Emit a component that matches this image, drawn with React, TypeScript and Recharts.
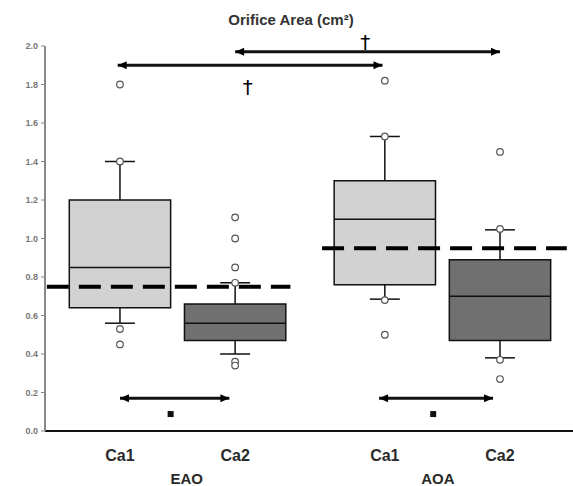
import React from 'react';
import {
  ComposedChart,
  XAxis,
  YAxis,
  Scatter,
  ReferenceArea,
  ReferenceLine,
} from 'recharts';

// box positions on the x scale (EAO Ca1, EAO Ca2, AOA Ca1, AOA Ca2)
const boxPos = [1, 2, 3.3, 4.3];
const whiskerLow = [0.56, 0.4, 0.685, 0.38];
const q1 = [0.64, 0.47, 0.76, 0.47];
const median = [0.85, 0.56, 1.1, 0.7];
const q3 = [1.2, 0.66, 1.3, 0.89];
const whiskerHigh = [1.4, 0.77, 1.53, 1.045];

const outliers = [
  [1.8, 1.4, 0.53, 0.45],
  [1.11, 1.0, 0.85, 0.77, 0.36, 0.34],
  [1.82, 1.53, 0.68, 0.5],
  [1.45, 1.05, 0.37, 0.27],
];

const catLabels = ['Ca1', 'Ca2', 'Ca1', 'Ca2'];
const groupPos = [1.58, 3.76];
const groupLabels = ['EAO', 'AOA'];

// dashed reference level per group and its x extent
const refLevel = [0.75, 0.95];
const refSpan = [
  [0.365, 2.48],
  [2.755, 4.88],
];

// significance arrows
const arrows = [
  { from: 2, to: 4.3, y: 1.97 },
  { from: 0.98, to: 3.28, y: 1.9 },
  { from: 1, to: 1.95, y: 0.17 },
  { from: 3.25, to: 4.24, y: 0.17 },
];
const daggers = [
  { x: 3.13, y: 1.97, side: 'above' },
  { x: 2.11, y: 1.9, side: 'below' },
];
const stars = [
  { x: 1.44, y: 0.088 },
  { x: 3.72, y: 0.088 },
];

const yTicks = [0, 0.2, 0.4, 0.6, 0.8, 1.0, 1.2, 1.4, 1.6, 1.8, 2.0];

const boxFill = ['#d2d2d2', '#707070', '#d2d2d2', '#707070'];
const HALF = 0.44;
const CAP = 0.13;

const outlierData = outliers.flatMap((vals, i) => vals.map((v) => ({ x: boxPos[i], y: v })));
const arrowHeads = arrows.flatMap((a) => [
  { x: a.from, y: a.y, dir: -1 },
  { x: a.to, y: a.y, dir: 1 },
]);

const XTick = (props: any) => {
  const { x, y, payload } = props;
  const ci = boxPos.indexOf(payload.value);
  if (ci >= 0) {
    return (
      <text x={x} y={y + 30} textAnchor="middle" fontSize={16} fontWeight="bold" fill="#2a2a2a" fontFamily="Liberation Sans, Arial">
        {catLabels[ci]}
      </text>
    );
  }
  const gi = groupPos.indexOf(payload.value);
  return (
    <text x={x} y={y + 53} textAnchor="middle" fontSize={15} fontWeight="bold" fill="#2a2a2a" fontFamily="Liberation Sans, Arial">
      {groupLabels[gi]}
    </text>
  );
};

const ArrowHead = (props: any) => {
  const { cx, cy, payload } = props;
  const d = payload.dir;
  return <polygon points={`${cx},${cy} ${cx - d * 9},${cy - 4} ${cx - d * 9},${cy + 4}`} fill="#000" />;
};

const Dagger = (props: any) => {
  const { cx, cy, payload } = props;
  const yy = payload.side === 'above' ? cy - 3 : cy + 29;
  return (
    <text x={cx} y={yy} textAnchor="middle" fontSize={20} fill="#000" fontFamily="DejaVu Sans">
      †
    </text>
  );
};

const Star = (props: any) => {
  const { cx, cy } = props;
  return <rect x={cx - 3} y={cy - 3} width={6} height={6} fill="#111" />;
};

const Outlier = (props: any) => {
  const { cx, cy } = props;
  return <circle cx={cx} cy={cy} r={3.3} fill="#fff" stroke="#555" strokeWidth={1.2} />;
};

export default function App() {
  return (
    <div style={{ position: 'fixed', left: 0, top: 0, width: 573, height: 486, background: '#fff' }}>
      <div
        style={{
          position: 'absolute',
          left: 0,
          width: 582,
          top: 11,
          textAlign: 'center',
          fontFamily: 'Liberation Sans, Arial',
          fontWeight: 'bold',
          fontSize: 15,
          color: '#333',
        }}
      >
        Orifice Area (cm²)
      </div>
      <ComposedChart width={573} height={486} margin={{ top: 46, right: 0, bottom: 0, left: 0 }}>
        <XAxis
          type="number"
          dataKey="x"
          domain={[0.349, 4.934]}
          ticks={[...boxPos, ...groupPos]}
          interval={0}
          tick={<XTick />}
          tickLine={false}
          tickSize={0}
          tickMargin={0}
          height={55}
          axisLine={{ stroke: '#111', strokeWidth: 2 }}
        />
        <YAxis
          type="number"
          dataKey="y"
          domain={[0, 2]}
          ticks={yTicks}
          width={45}
          tickSize={4}
          tickMargin={3}
          tickFormatter={(v: number) => v.toFixed(1)}
          tick={{ fontSize: 9, fontWeight: 'bold', fill: '#777', fontFamily: 'Liberation Sans, Arial' }}
          tickLine={{ stroke: '#888' }}
          axisLine={{ stroke: '#888', strokeWidth: 2 }}
        />
        {boxPos.map((p, i) => (
          <ReferenceArea
            key={`box-${i}`}
            x1={p - HALF}
            x2={p + HALF}
            y1={q1[i]}
            y2={q3[i]}
            fill={boxFill[i]}
            fillOpacity={1}
            stroke="#111"
            strokeWidth={1.5}
            ifOverflow="visible"
          />
        ))}
        {boxPos.map((p, i) => (
          <ReferenceLine key={`med-${i}`} segment={[{ x: p - HALF, y: median[i] }, { x: p + HALF, y: median[i] }]} stroke="#111" strokeWidth={1.5} />
        ))}
        {boxPos.map((p, i) => (
          <ReferenceLine key={`wh-${i}`} segment={[{ x: p, y: q3[i] }, { x: p, y: whiskerHigh[i] }]} stroke="#111" strokeWidth={1.5} />
        ))}
        {boxPos.map((p, i) => (
          <ReferenceLine key={`wl-${i}`} segment={[{ x: p, y: q1[i] }, { x: p, y: whiskerLow[i] }]} stroke="#111" strokeWidth={1.5} />
        ))}
        {boxPos.map((p, i) => (
          <ReferenceLine key={`ch-${i}`} segment={[{ x: p - CAP, y: whiskerHigh[i] }, { x: p + CAP, y: whiskerHigh[i] }]} stroke="#111" strokeWidth={1.5} />
        ))}
        {boxPos.map((p, i) => (
          <ReferenceLine key={`cl-${i}`} segment={[{ x: p - CAP, y: whiskerLow[i] }, { x: p + CAP, y: whiskerLow[i] }]} stroke="#111" strokeWidth={1.5} />
        ))}
        {refLevel.map((lv, i) => (
          <ReferenceLine
            key={`ref-${i}`}
            segment={[{ x: refSpan[i][0], y: lv }, { x: refSpan[i][1], y: lv }]}
            stroke="#000"
            strokeWidth={4}
            strokeDasharray="22 10"
          />
        ))}
        {arrows.map((a, i) => (
          <ReferenceLine
            key={`arr-${i}`}
            segment={[{ x: a.from, y: a.y }, { x: a.to, y: a.y }]}
            stroke="#111"
            strokeWidth={3}
            ifOverflow="visible"
          />
        ))}
        <Scatter data={outlierData} shape={<Outlier />} isAnimationActive={false} />
        <Scatter data={arrowHeads} shape={<ArrowHead />} isAnimationActive={false} />
        <Scatter data={daggers} shape={<Dagger />} isAnimationActive={false} />
        <Scatter data={stars} shape={<Star />} isAnimationActive={false} />
      </ComposedChart>
    </div>
  );
}
